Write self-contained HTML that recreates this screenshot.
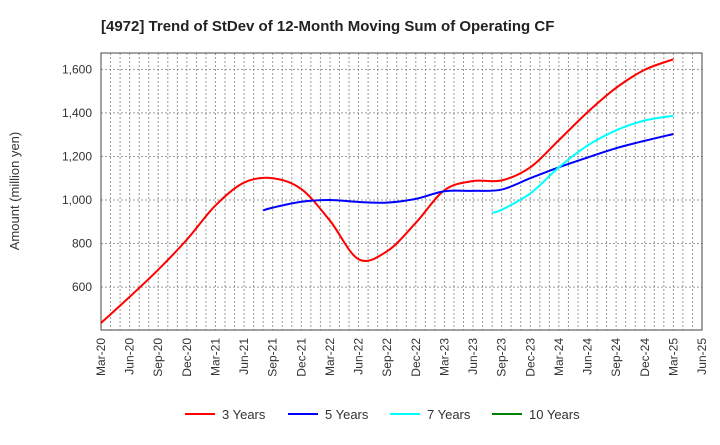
<!DOCTYPE html>
<html><head><meta charset="utf-8"><style>
body{margin:0;background:#fff;font-family:"Liberation Sans",Arial,sans-serif}
</style></head><body>
<svg id="chart" width="720" height="440" xmlns="http://www.w3.org/2000/svg" font-family="Liberation Sans, Arial, sans-serif">
<text x="101" y="31" font-size="15" font-weight="bold" fill="#222">[4972]  Trend of StDev of 12-Month Moving Sum of Operating CF</text>
<text transform="translate(19,191) rotate(-90)" text-anchor="middle" font-size="13" fill="#333">Amount (million yen)</text>
<g id="grid"></g><g id="axes"></g><g id="series"></g><g id="legend"></g>
</svg>
<script>
const xLabels=["Mar-20","Jun-20","Sep-20","Dec-20","Mar-21","Jun-21","Sep-21","Dec-21","Mar-22","Jun-22","Sep-22","Dec-22","Mar-23","Jun-23","Sep-23","Dec-23","Mar-24","Jun-24","Sep-24","Dec-24","Mar-25","Jun-25"];
const yTicks=[600,800,1000,1200,1400,1600];
const yTickLabels=["600","800","1,000","1,200","1,400","1,600"];
const redMonths=[0,3,6,9,12,15,18,21,24,27,30,33,36,39,42,45,48,51,54,57,60];
const redValues=[435,555,680,818,975,1080,1100,1050,905,728,765,895,1045,1087,1090,1150,1275,1403,1515,1598,1646];
const blueMonths=[17,18,21,24,27,30,33,36,39,42,45,48,51,54,57,60];
const blueValues=[952,965,992,1000,991,988,1005,1040,1042,1048,1100,1150,1195,1238,1272,1303];
const cyanMonths=[41,42,45,48,51,54,57,60];
const cyanValues=[941,955,1030,1150,1250,1320,1365,1387];
const greenMonths=[];
const greenValues=[];
const seriesNames=["3 Years","5 Years","7 Years","10 Years"];
const seriesColors=["#ff0000","#0000ff","#00ffff","#008000"];

const L=101,R=702,T=53,B=330,NM=63,YMIN=403,YMAX=1675;
const NS="http://www.w3.org/2000/svg";
const X=m=>L+(R-L)*m/NM;
const Y=v=>B-(B-T)*(v-YMIN)/(YMAX-YMIN);
function mk(tag,attrs,parent){const e=document.createElementNS(NS,tag);for(const k in attrs)e.setAttribute(k,attrs[k]);parent.appendChild(e);return e;}
const grid=document.getElementById('grid'),axes=document.getElementById('axes'),series=document.getElementById('series'),legend=document.getElementById('legend');
for(let m=1;m<NM;m++){const l=mk('line',{x1:X(m),x2:X(m),y1:T,y2:B,stroke:'#999','stroke-width':1,'stroke-dasharray':'2,2'},grid);

}
yTicks.forEach((v,i)=>{const l=mk('line',{x1:L,x2:R,y1:Y(v),y2:Y(v),stroke:'#999','stroke-width':1,'stroke-dasharray':'2,2'},grid);


const t=mk('text',{x:L-9,y:Y(v)+4,'text-anchor':'end','font-size':12,fill:'#333'},axes);t.textContent=yTickLabels[i];

});
const fr=mk('rect',{x:L,y:T,width:R-L,height:B-T,fill:'none',stroke:'#444','stroke-width':1},axes);


xLabels.forEach((s,i)=>{const x=X(i*3);const t=mk('text',{transform:`translate(${x+4},${B+8}) rotate(-90)`,'text-anchor':'end','font-size':12,fill:'#333'},axes);t.textContent=s;

});
function path(ms,vs){const p=ms.map((m,i)=>[X(m),Y(vs[i])]);if(p.length<2)return '';let d=`M${p[0][0]},${p[0][1]}`;
for(let i=0;i<p.length-1;i++){const p0=p[i-1]||p[i],p1=p[i],p2=p[i+1],p3=p[i+2]||p2;
d+=` C${p1[0]+(p2[0]-p0[0])/6},${p1[1]+(p2[1]-p0[1])/6} ${p2[0]-(p3[0]-p1[0])/6},${p2[1]-(p3[1]-p1[1])/6} ${p2[0]},${p2[1]}`;}return d;}
const all=[[redMonths,redValues],[blueMonths,blueValues],[cyanMonths,cyanValues],[greenMonths,greenValues]];
const sn=['series-3-years','series-5-years','series-7-years','series-10-years'];
all.forEach((s,i)=>{const d=path(s[0],s[1]);if(!d)return;const p=mk('path',{d:d,fill:'none',stroke:seriesColors[i],'stroke-width':2},series);

});
const lx=[185,288,390,492];
seriesNames.forEach((n,i)=>{const g=mk('g',{},legend);


mk('line',{x1:lx[i],x2:lx[i]+30,y1:414,y2:414,stroke:seriesColors[i],'stroke-width':2},g);
const t=mk('text',{x:lx[i]+37,y:419,'font-size':13,fill:'#333'},g);t.textContent=n;});
</script>
</body></html>
